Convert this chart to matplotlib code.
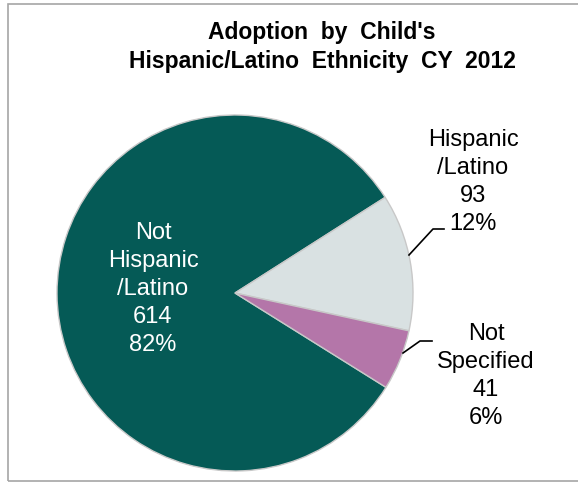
import matplotlib.pyplot as plt
from matplotlib.patches import Rectangle

plt.rcParams['font.family'] = ['Liberation Sans', 'DejaVu Sans']

labels = ["Not\nHispanic\n/Latino", "Hispanic\n/Latino", "Not\nSpecified"]
counts = [614, 93, 41]
pcts = ["82%", "12%", "6%"]
colors = ["#055a56", "#d9e1e2", "#b476a9"]

fig = plt.figure(figsize=(5.78, 4.82), dpi=100)
ax = fig.add_axes([0, 0, 1, 1])
ax.set_xlim(0, 578)
ax.set_ylim(0, 482)
ax.set_aspect("equal")
ax.axis("off")

# chart frame
ax.add_patch(Rectangle((8, 1), 600, 477, fill=False, edgecolor="#a6a6a6", lw=1.2))

ax.pie(counts, colors=colors, center=(235, 189), radius=178,
       startangle=-32, counterclock=False,
       wedgeprops=dict(edgecolor="#c8c8c8", linewidth=1.0))
ax.set_xlim(0, 578)
ax.set_ylim(0, 482)

ax.text(322, 435, "Adoption  by  Child's\nHispanic/Latino  Ethnicity  CY  2012",
        ha="center", va="center", fontsize=16.5, fontweight="bold", linespacing=1.3)

# data labels
pos = [(153, 193), (473, 300), (486, 106)]
tcol = ["white", "black", "black"]
for (x, y), lab, n, p, c in zip(pos, labels, counts, pcts, tcol):
    ax.text(x, y, f"{lab}\n{n}\n{p}", ha="center", va="center",
            fontsize=17, color=c, linespacing=1.35)

# leader lines
ax.plot([409, 433, 444], [227, 253, 253], color="black", lw=1.2)
ax.plot([403, 420, 432], [129, 141, 141], color="black", lw=1.2)

fig.savefig("out.png", dpi=100)
